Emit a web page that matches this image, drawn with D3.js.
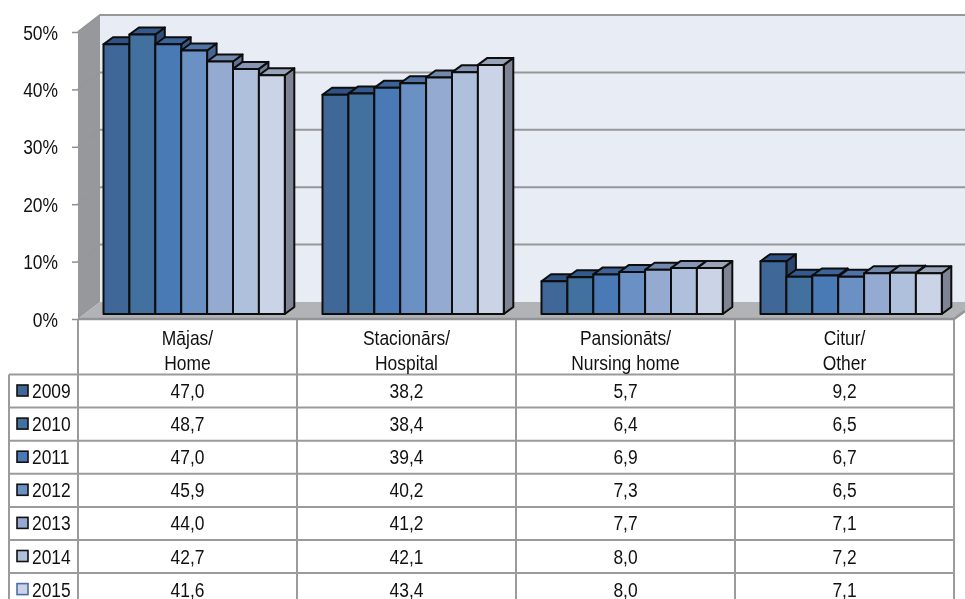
<!DOCTYPE html>
<html><head><meta charset="utf-8">
<script src="https://cdn.jsdelivr.net/npm/d3@7"></script>
<style>html,body{margin:0;padding:0;background:#fff;overflow:hidden}svg{display:block;filter:blur(0.4px)}
text{font-family:"Liberation Sans",Arial,sans-serif;fill:#111;font-size:20.5px}</style>
</head><body><svg id="c" width="965" height="599"></svg>
<script>
const categories=[["Mājas/","Home"],["Stacionārs/","Hospital"],["Pansionāts/","Nursing home"],["Citur/","Other"]];
const years=["2009","2010","2011","2012","2013","2014","2015"];
const v2009=[47.0,38.2,5.7,9.2];
const v2010=[48.7,38.4,6.4,6.5];
const v2011=[47.0,39.4,6.9,6.7];
const v2012=[45.9,40.2,7.3,6.5];
const v2013=[44.0,41.2,7.7,7.1];
const v2014=[42.7,42.1,8.0,7.2];
const v2015=[41.6,43.4,8.0,7.1];
const series=[v2009,v2010,v2011,v2012,v2013,v2014,v2015];
const yTicks=[0,10,20,30,40,50];
const colors=["#3f6797","#42709f","#4a7ab6","#6a90c4","#95aad1","#afc0dc","#cbd4e6"];
const tops=["#2f5384","#335a8c","#3c6499","#4f73a6","#7388ad","#8796b5","#9aa4b8"];
const sides=["#2c466e","#2f4d78","#35578a","#46648f","#5f7295","#6f7d9a","#7e8494"];

const svg=d3.select("#c");
const L=78,R=954,T=32,B=319,DX=22,DY=-17,SX=0.85;
const y=d3.scaleLinear().domain([0,50]).range([B,T]);
const x=d3.scaleBand().domain(d3.range(categories.length)).range([L,R]);
const xb=d3.scaleBand().domain(d3.range(years.length)).range([25.5,25.5+181.3]);
const rowY=d3.scaleLinear().domain([0,7]).range([374.5,606.2]);
const poly=p=>p.map(a=>a.join(",")).join(" ");
const label=(px,py,t,anchor)=>svg.append("text").attr("transform",`translate(${px},${py}) scale(${SX},1)`).attr("text-anchor",anchor||"middle").text(t);

// walls
svg.append("polygon").attr("points",poly([[L+DX,y(50)+DY],[965,y(50)+DY],[965,y(0)+DY],[L+DX,y(0)+DY]])).attr("fill","#e8ecf5");
svg.append("polygon").attr("points",poly([[L,y(50)],[L+DX,y(50)+DY],[L+DX,y(0)+DY],[L,y(0)]])).attr("fill","#97989c");
// gridlines
svg.append("g").selectAll("path").data(yTicks.slice(1)).join("path")
  .attr("d",d=>`M${L},${y(d)}L${L+DX},${y(d)+DY}L965,${y(d)+DY}`)
  .attr("fill","none").attr("stroke","#96979a").attr("stroke-width",2);
// floor
svg.append("polygon").attr("points",poly([[L,B],[L+DX,B+DY],[976,B+DY],[R,B]])).attr("fill","#b1b3b6");
svg.append("path").attr("d",`M${L},${B}H${R}L965,${B-8}`).attr("fill","none").attr("stroke","#929396").attr("stroke-width",2.5);

// y axis
const ax=svg.append("g").attr("transform",`translate(${L},0)`)
  .call(d3.axisLeft(y).tickValues(yTicks).tickFormat(d=>d+"%").tickSize(6));
ax.select(".domain").remove();
ax.selectAll("line").attr("stroke","#8e8f92").attr("stroke-width",1.5);
ax.selectAll("text").attr("font-size",null).attr("font-family",null).attr("dy",null).attr("x",null).attr("y",null)
  .attr("transform",`translate(-20,7) scale(${SX},1)`);
ax.attr("font-size",null).attr("font-family",null);

// bars
const dx=9.5,dy=-7,base=5;
categories.forEach((c,ci)=>{
  years.forEach((yr,si)=>{
    const v=series[si][ci];
    const x0=x(ci)+xb(si),w=xb.bandwidth(),top=y(v)-base,bot=y(0)-base;
    const g=svg.append("g").attr("stroke","#0d0d0d").attr("stroke-width",2).attr("stroke-linejoin","round");
    g.append("polygon").attr("points",poly([[x0+w,top],[x0+w+dx,top+dy],[x0+w+dx,bot+dy],[x0+w,bot]])).attr("fill",sides[si]);
    g.append("polygon").attr("points",poly([[x0,top],[x0+dx,top+dy],[x0+w+dx,top+dy],[x0+w,top]])).attr("fill",tops[si]);
    g.append("rect").attr("x",x0).attr("y",top).attr("width",w).attr("height",bot-top).attr("fill",colors[si]);
  });
});

// table grid
const grid=svg.append("g").attr("stroke","#9a9b9d").attr("stroke-width",2).attr("fill","none");
d3.range(categories.length+1).forEach(i=>{
  const px=i<categories.length?x(i):R;
  grid.append("line").attr("x1",px).attr("x2",px).attr("y1",B+1).attr("y2",599);
});
grid.append("line").attr("x1",9).attr("x2",9).attr("y1",rowY(0)).attr("y2",599);
d3.range(years.length).forEach(i=>{
  grid.append("line").attr("x1",9).attr("x2",R).attr("y1",rowY(i)).attr("y2",rowY(i));
});

// header labels
categories.forEach((c,ci)=>{
  c.forEach((t,li)=>label(x(ci)+x.bandwidth()/2,345+li*25,t));
});
// rows
years.forEach((yr,si)=>{
  const cy=rowY(si)+16.5;
  svg.append("rect").attr("x",17).attr("y",cy-6).attr("width",11).attr("height",11)
    .attr("fill",colors[si]).attr("stroke",si===6?"#4a6fa5":"#111").attr("stroke-width",1.6);
  label(32,cy+7,yr,"start");
  categories.forEach((c,ci)=>{
    label(x(ci)+x.bandwidth()/2,cy+7,series[si][ci].toFixed(1).replace(".",","));
  });
});
</script></body></html>
